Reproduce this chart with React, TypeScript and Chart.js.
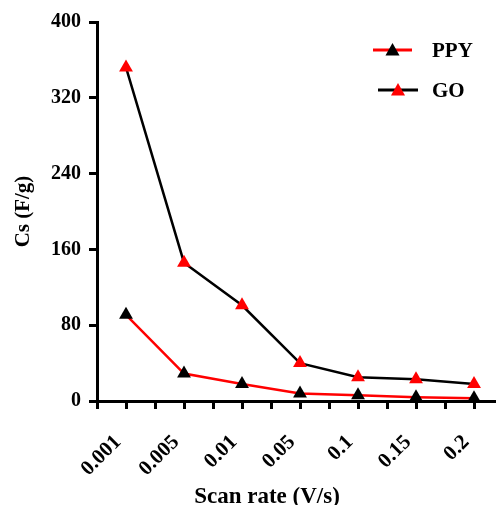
import React, { useEffect, useRef } from 'react';
import { Chart, registerables } from 'chart.js';

Chart.register(...registerables);

const categories = ['0.001', '0.005', '0.01', '0.05', '0.1', '0.15', '0.2'];
const ppyValues = [91, 29, 18, 8, 6, 4, 3];
const goValues = [352, 146, 101, 40, 25, 23, 18];
const yTicks = [0, 80, 160, 240, 320, 400];
const seriesNames = ['PPY', 'GO'];
const xTitle = 'Scan rate (V/s)';
const yTitle = 'Cs (F/g)';

const FONT = "'Liberation Serif', 'Times New Roman', serif";

const overlayPlugin = {
  id: 'overlay',
  afterDraw(chart: any) {
    const ctx = chart.ctx;
    ctx.save();
    // x title
    ctx.fillStyle = '#000';
    ctx.font = `bold 23px ${FONT}`;
    ctx.textAlign = 'center';
    ctx.textBaseline = 'middle';
    ctx.fillText(xTitle, 267, 497);
    // legend
    const items = [
      { label: seriesNames[0], line: '#ff0000', mark: '#000000', x1: 373, x2: 412, y: 50 },
      { label: seriesNames[1], line: '#000000', mark: '#ff0000', x1: 378, x2: 418, y: 90 },
    ];
    items.forEach((it) => {
      ctx.strokeStyle = it.line;
      ctx.lineWidth = 3;
      ctx.beginPath();
      ctx.moveTo(it.x1, it.y);
      ctx.lineTo(it.x2, it.y);
      ctx.stroke();
      const cx = (it.x1 + it.x2) / 2;
      const r = 7;
      ctx.fillStyle = it.mark;
      ctx.beginPath();
      ctx.moveTo(cx, it.y - r);
      ctx.lineTo(cx + r, it.y + r * 0.8);
      ctx.lineTo(cx - r, it.y + r * 0.8);
      ctx.closePath();
      ctx.fill();
      ctx.fillStyle = '#000';
      ctx.font = `bold 21px ${FONT}`;
      ctx.textAlign = 'left';
      ctx.textBaseline = 'middle';
      ctx.fillText(it.label, 432, it.y + 2);
    });
    ctx.restore();
  },
};

export default function App() {
  const ref = useRef<HTMLCanvasElement>(null);
  useEffect(() => {
    if (!ref.current) return;
    const chart = new Chart(ref.current, {
      type: 'line',
      data: {
        datasets: [
          {
            label: seriesNames[1],
            data: goValues.map((v, i) => ({ x: i, y: v })),
            borderColor: '#000000',
            borderWidth: 2.5,
            pointStyle: 'triangle',
            pointRadius: 8,
            pointBackgroundColor: '#ff0000',
            pointBorderColor: '#ff0000',
            pointBorderWidth: 0,
            tension: 0,
          },
          {
            label: seriesNames[0],
            data: ppyValues.map((v, i) => ({ x: i, y: v })),
            borderColor: '#ff0000',
            borderWidth: 2.5,
            pointStyle: 'triangle',
            pointRadius: 8,
            pointBackgroundColor: '#000000',
            pointBorderColor: '#000000',
            pointBorderWidth: 0,
            tension: 0,
          },
        ],
      },
      options: {
        animation: false,
        responsive: false,
        devicePixelRatio: 1,
        layout: { autoPadding: false, padding: { top: 22, right: 0, left: 0, bottom: 0 } },
        plugins: { legend: { display: false }, tooltip: { enabled: false } },
        scales: {
          x: {
            type: 'linear',
            min: -0.5,
            max: 6.379,
            afterBuildTicks: (scale: any) => {
              const t = [];
              for (let v = -0.5; v <= 6.01; v += 0.5) t.push({ value: v });
              scale.ticks = t;
            },
            afterFit: (scale: any) => {
              scale.height = 104;
              scale.paddingRight = 0;
              scale.paddingLeft = 0;
            },
            grid: {
              drawOnChartArea: false,
              drawTicks: true,
              tickLength: 8,
              color: '#000',
              lineWidth: 3,
            },
            border: { display: true, color: '#000', width: 3 },
            ticks: {
              autoSkip: false,
              minRotation: 45,
              maxRotation: 45,
              padding: 21,
              labelOffset: -8,
              color: '#000',
              font: { family: FONT, size: 21, weight: 'bold' },
              callback: (v: any) => {
                const n = Number(v);
                return Number.isInteger(n) && categories[n] !== undefined ? categories[n] : '';
              },
            },
          },
          y: {
            type: 'linear',
            min: yTicks[0],
            max: yTicks[yTicks.length - 1],
            afterBuildTicks: (scale: any) => {
              scale.ticks = yTicks.map((v) => ({ value: v }));
            },
            afterFit: (scale: any) => {
              scale.width = 97;
            },
            grid: {
              drawOnChartArea: false,
              drawTicks: true,
              tickLength: 8,
              color: '#000',
              lineWidth: 3,
            },
            border: { display: true, color: '#000', width: 3 },
            ticks: {
              padding: 8,
              color: '#000',
              font: { family: FONT, size: 20, weight: 'bold' },
            },
            title: {
              display: true,
              text: yTitle,
              color: '#000',
              padding: { top: 11, bottom: 0 },
              font: { family: FONT, size: 21, weight: 'bold' },
            },
          },
        },
      },
      plugins: [overlayPlugin],
    } as any);
    return () => chart.destroy();
  }, []);
  return (
    <div style={{ position: 'fixed', left: 0, top: 0, width: 496, height: 505, background: '#fff' }}>
      <canvas ref={ref} width={496} height={505} style={{ display: 'block' }} />
    </div>
  );
}
